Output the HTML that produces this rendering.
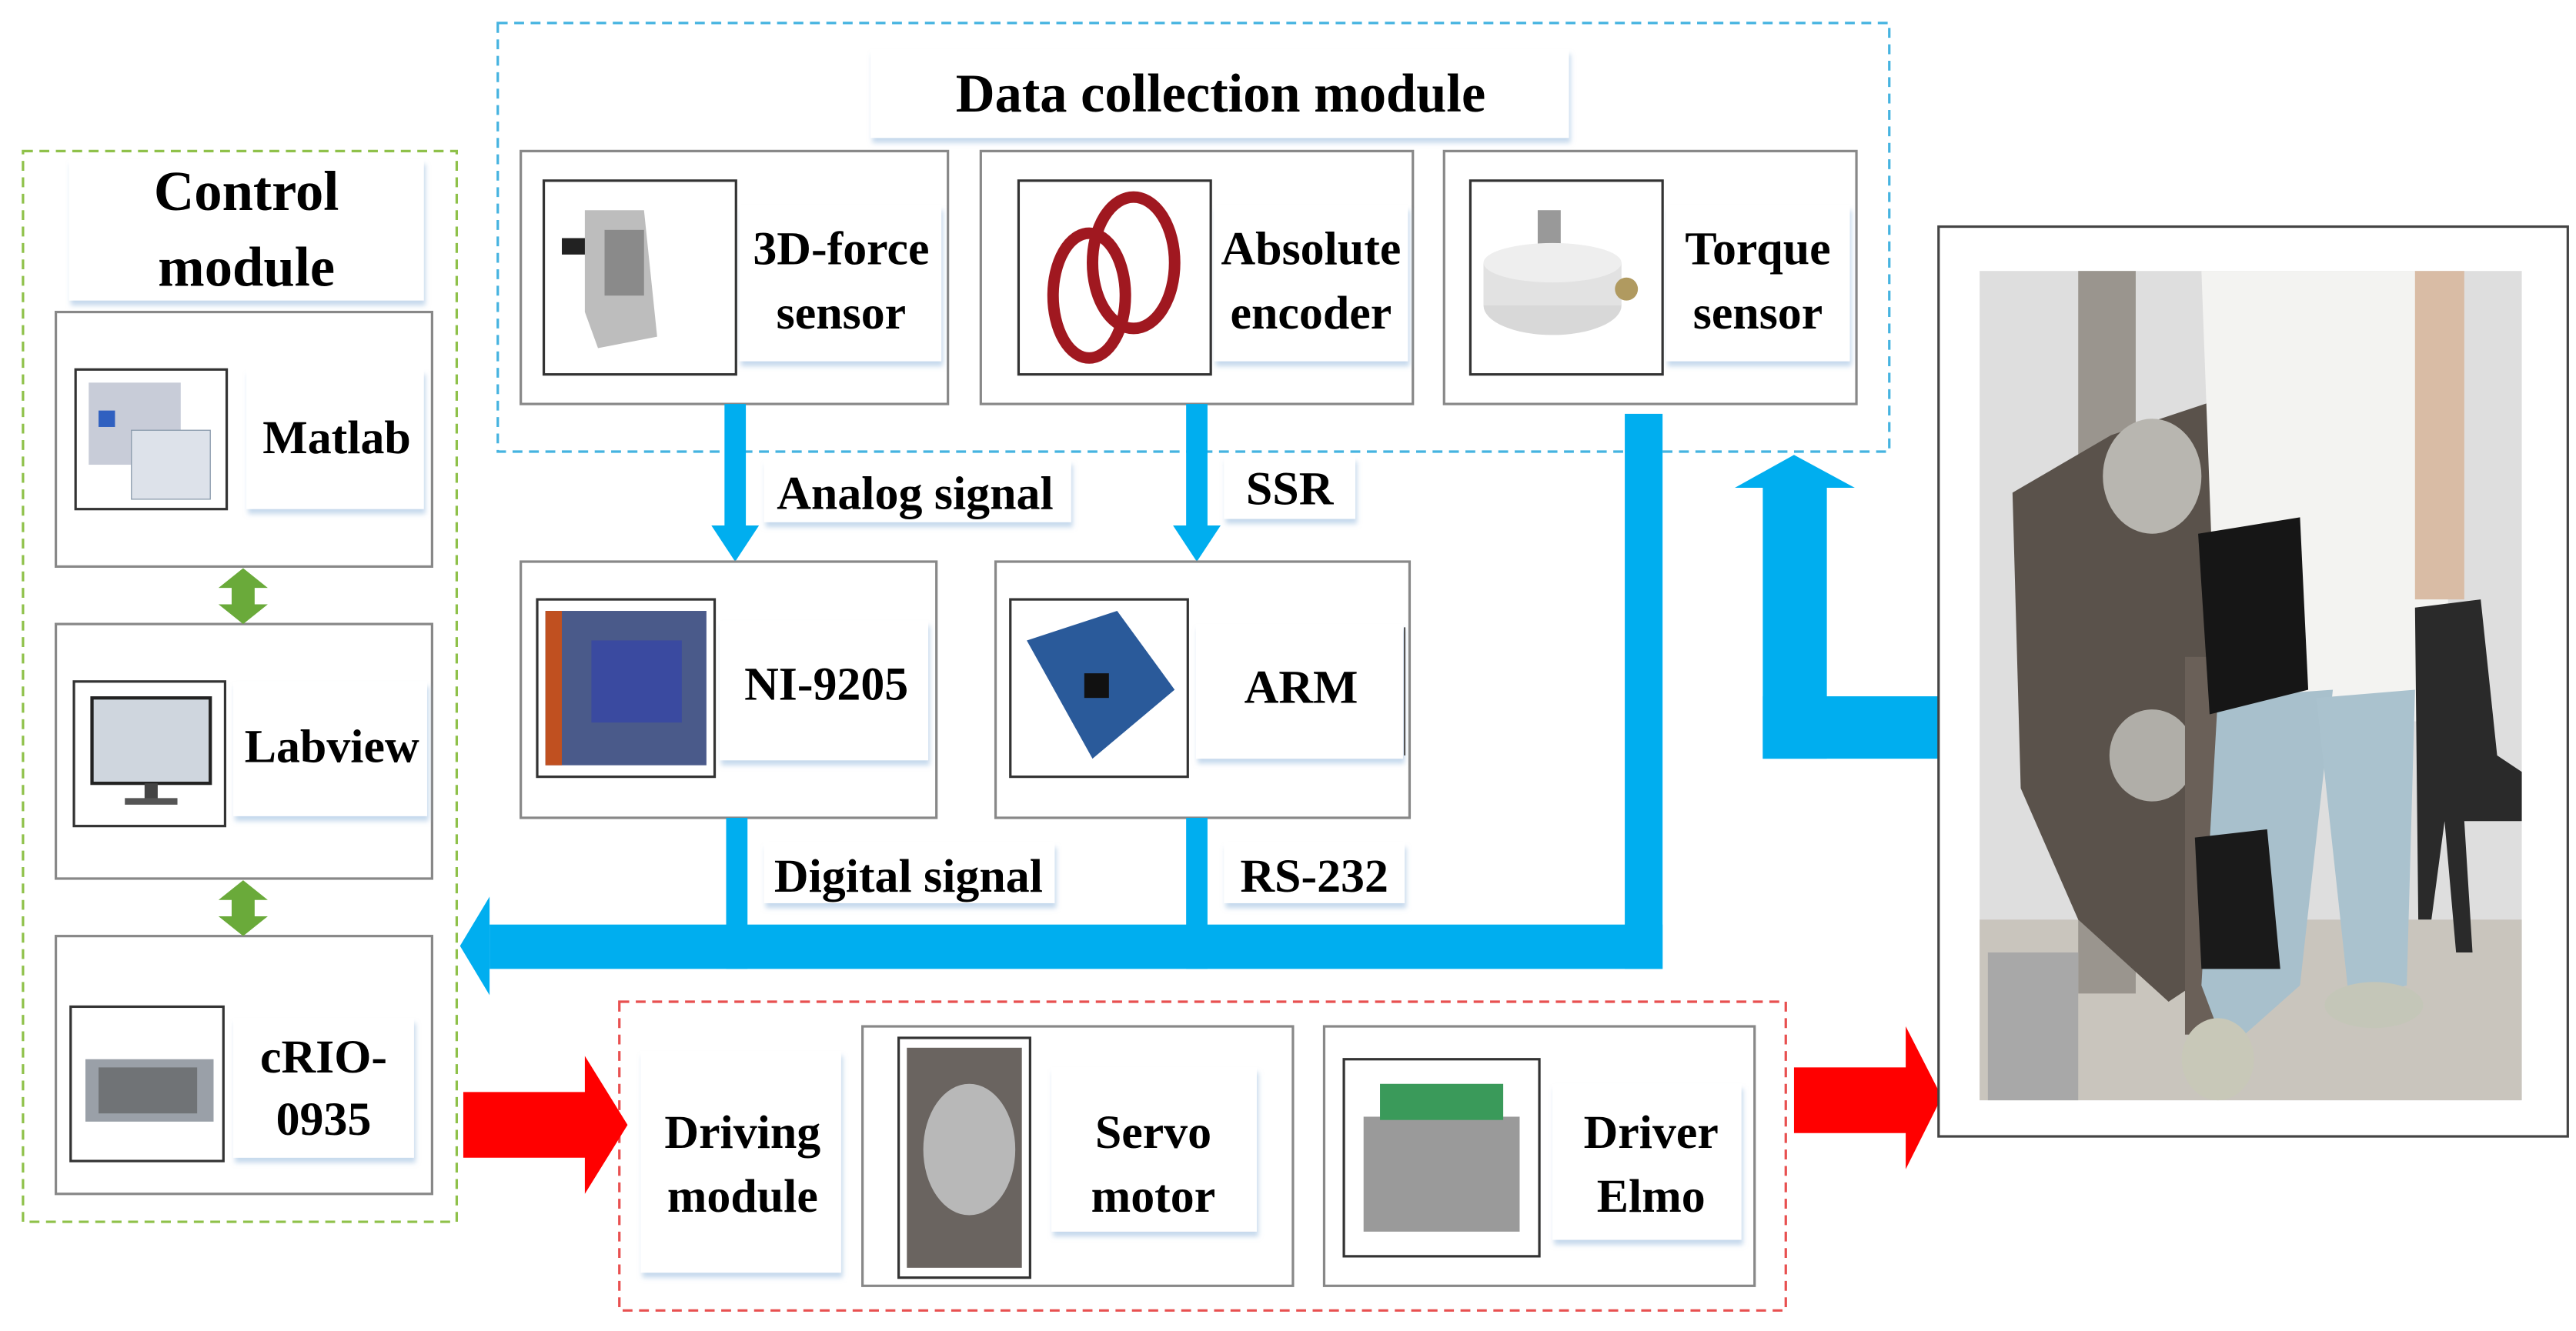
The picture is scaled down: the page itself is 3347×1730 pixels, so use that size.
<!DOCTYPE html>
<html><head><meta charset="utf-8"><style>
html,body{margin:0;padding:0;background:#fff;}
svg{display:block;}
text{font-family:"Liberation Serif",serif;font-weight:bold;fill:#000;}
</style></head><body>
<svg width="3347" height="1730" viewBox="0 0 1568 810.5" preserveAspectRatio="none" xmlns="http://www.w3.org/2000/svg">
<defs>
<filter id="sh" x="-10%" y="-10%" width="120%" height="130%"><feDropShadow dx="1" dy="3" stdDeviation="1.5" flood-color="#9fbfe0" flood-opacity="0.6"/></filter>
</defs>
<rect width="1568" height="810.5" fill="#fff"/>

<!-- Data collection module -->
<rect x="303" y="14" width="847" height="261" fill="none" stroke="#45b3e0" stroke-width="1.5" stroke-dasharray="6,4"/>
<rect x="530" y="30" width="425" height="54" fill="#fff" filter="url(#sh)"/>
<text x="743" y="68" font-size="33" text-anchor="middle">Data collection module</text>

<g stroke="#888" stroke-width="1.5" fill="#fff">
<rect x="317" y="92" width="260" height="154"/>
<rect x="597" y="92" width="263" height="154"/>
<rect x="879" y="92" width="251" height="154"/>
</g>
<g stroke="#333" stroke-width="1.5" fill="#fff">
<rect x="331" y="110" width="117" height="118"/>
<rect x="620" y="110" width="117" height="118"/>
<rect x="895" y="110" width="117" height="118"/>
</g>
<rect x="450" y="125" width="123" height="95" fill="#fff" filter="url(#sh)"/>
<rect x="739" y="125" width="118" height="95" fill="#fff" filter="url(#sh)"/>
<rect x="1014" y="125" width="112" height="95" fill="#fff" filter="url(#sh)"/>
<text x="512" y="161" font-size="29" text-anchor="middle">3D-force</text>
<text x="512" y="200" font-size="29" text-anchor="middle">sensor</text>
<text x="798" y="161" font-size="29" text-anchor="middle">Absolute</text>
<text x="798" y="200" font-size="29" text-anchor="middle">encoder</text>
<text x="1070" y="161" font-size="29" text-anchor="middle">Torque</text>
<text x="1070" y="200" font-size="29" text-anchor="middle">sensor</text>
<!-- 3D force img -->
<rect x="342" y="145" width="18" height="10" fill="#222"/>
<polygon points="356,128 392,128 400,205 364,212 356,190" fill="#bdbdbd"/>
<rect x="368" y="140" width="24" height="40" fill="#8a8a8a"/>
<!-- encoder rings -->
<ellipse cx="663" cy="180" rx="22" ry="38" fill="none" stroke="#a01820" stroke-width="7"/>
<ellipse cx="690" cy="160" rx="25" ry="40" fill="none" stroke="#a01820" stroke-width="7"/>
<!-- torque sensor -->
<rect x="936" y="128" width="14" height="30" fill="#999"/>
<ellipse cx="945" cy="186" rx="42" ry="18" fill="#d8d8d8"/>
<rect x="903" y="160" width="84" height="26" fill="#e2e2e2"/>
<ellipse cx="945" cy="160" rx="42" ry="12" fill="#eee"/>
<circle cx="990" cy="176" r="7" fill="#b09a60"/>

<!-- Analog / SSR arrows -->
<rect x="441" y="246" width="13" height="76" fill="#00aeef"/>
<polygon points="433,320 462,320 447.5,342" fill="#00aeef"/>
<rect x="722" y="246" width="13" height="76" fill="#00aeef"/>
<polygon points="714,320 743,320 728.5,342" fill="#00aeef"/>
<rect x="465" y="280" width="187" height="38" fill="#fff" filter="url(#sh)"/>
<text x="557" y="310" font-size="29" text-anchor="middle">Analog signal</text>
<rect x="745" y="278" width="80" height="38" fill="#fff" filter="url(#sh)"/>
<text x="785" y="307" font-size="29" text-anchor="middle">SSR</text>

<!-- NI-9205 / ARM -->
<g stroke="#888" stroke-width="1.5" fill="#fff">
<rect x="317" y="342" width="253" height="156"/>
<rect x="606" y="342" width="252" height="156"/>
</g>
<g stroke="#333" stroke-width="1.5" fill="#fff">
<rect x="327" y="365" width="108" height="108"/>
<rect x="615" y="365" width="108" height="108"/>
</g>
<rect x="332" y="372" width="98" height="94" fill="#4a5a8a"/>
<rect x="360" y="390" width="55" height="50" fill="#3a4aa0"/>
<rect x="332" y="372" width="10" height="94" fill="#c05020"/>
<polygon points="625,390 680,372 715,420 665,462" fill="#2a5a9a"/>
<rect x="660" y="410" width="15" height="15" fill="#111"/>
<rect x="438" y="378" width="127" height="85" fill="#fff" filter="url(#sh)"/>
<text x="503" y="426" font-size="29" text-anchor="middle">NI-9205</text>
<rect x="728" y="380" width="126" height="82" fill="#fff" filter="url(#sh)"/>
<line x1="855" y1="382" x2="855" y2="460" stroke="#555" stroke-width="1"/>
<text x="792" y="428" font-size="29" text-anchor="middle">ARM</text>

<!-- Digital / RS232 and bus -->
<rect x="442" y="498" width="13" height="92" fill="#00aeef"/>
<rect x="722" y="498" width="13" height="92" fill="#00aeef"/>
<rect x="989" y="252" width="23" height="338" fill="#00aeef"/>
<rect x="298" y="563" width="714" height="27" fill="#00aeef"/>
<polygon points="298,546 298,606 280,576" fill="#00aeef"/>
<rect x="465" y="513" width="177" height="37" fill="#fff" filter="url(#sh)"/>
<text x="553" y="543" font-size="29" text-anchor="middle">Digital signal</text>
<rect x="745" y="513" width="110" height="37" fill="#fff" filter="url(#sh)"/>
<text x="800" y="543" font-size="29" text-anchor="middle">RS-232</text>

<!-- up arrow from photo -->
<rect x="1073" y="296" width="39" height="166" fill="#00aeef"/>
<rect x="1073" y="424" width="107" height="38" fill="#00aeef"/>
<polygon points="1056,297 1129,297 1092,277" fill="#00aeef"/>

<!-- Control module -->
<rect x="14" y="92" width="264" height="652" fill="none" stroke="#8fc14a" stroke-width="1.5" stroke-dasharray="6,4"/>
<rect x="42" y="97" width="216" height="86" fill="#fff" filter="url(#sh)"/>
<text x="150" y="128" font-size="34" text-anchor="middle">Control</text>
<text x="150" y="174" font-size="34" text-anchor="middle">module</text>
<g stroke="#888" stroke-width="1.5" fill="#fff">
<rect x="34" y="190" width="229" height="155"/>
<rect x="34" y="380" width="229" height="155"/>
<rect x="34" y="570" width="229" height="157"/>
</g>
<g stroke="#333" stroke-width="1.5" fill="#fff">
<rect x="46" y="225" width="92" height="85"/>
<rect x="45" y="415" width="92" height="88"/>
<rect x="43" y="613" width="93" height="94"/>
</g>
<rect x="54" y="233" width="56" height="50" fill="#c8ccd8"/>
<rect x="80" y="262" width="48" height="42" fill="#dde2ea" stroke="#8899aa" stroke-width="0.6"/>
<rect x="60" y="250" width="10" height="10" fill="#3060c0"/>
<rect x="56" y="425" width="72" height="52" fill="#cfd6de" stroke="#222" stroke-width="2"/>
<rect x="88" y="477" width="8" height="10" fill="#444"/>
<rect x="76" y="486" width="32" height="4" fill="#555"/>
<rect x="52" y="645" width="78" height="38" fill="#9aa0a8"/>
<rect x="60" y="650" width="60" height="28" fill="#555" opacity="0.6"/>
<rect x="150" y="225" width="108" height="85" fill="#fff" filter="url(#sh)"/>
<text x="205" y="276" font-size="29" text-anchor="middle">Matlab</text>
<rect x="142" y="415" width="118" height="82" fill="#fff" filter="url(#sh)"/>
<text x="202" y="464" font-size="29" text-anchor="middle">Labview</text>
<rect x="142" y="620" width="110" height="85" fill="#fff" filter="url(#sh)"/>
<text x="197" y="653" font-size="29" text-anchor="middle">cRIO-</text>
<text x="197" y="691" font-size="29" text-anchor="middle">0935</text>
<!-- green double arrows -->
<polygon points="148,346 163,358 155,358 155,368 163,368 148,380 133,368 141,368 141,358 133,358" fill="#6aaa3a"/>
<polygon points="148,536 163,548 155,548 155,558 163,558 148,570 133,558 141,558 141,548 133,548" fill="#6aaa3a"/>

<!-- Driving module -->
<rect x="377" y="610" width="710" height="188" fill="none" stroke="#e85050" stroke-width="1.5" stroke-dasharray="6,4"/>
<rect x="390" y="640" width="122" height="135" fill="#fff" filter="url(#sh)"/>
<text x="452" y="699" font-size="29" text-anchor="middle">Driving</text>
<text x="452" y="738" font-size="29" text-anchor="middle">module</text>
<g stroke="#888" stroke-width="1.5" fill="#fff">
<rect x="525" y="625" width="262" height="158"/>
<rect x="806" y="625" width="262" height="158"/>
</g>
<g stroke="#333" stroke-width="1.5" fill="#fff">
<rect x="547" y="632" width="80" height="146"/>
<rect x="818" y="645" width="119" height="120"/>
</g>
<rect x="552" y="638" width="70" height="134" fill="#6a6460"/>
<ellipse cx="590" cy="700" rx="28" ry="40" fill="#b8b8b8"/>
<rect x="830" y="680" width="95" height="70" fill="#9a9a9a"/>
<rect x="840" y="660" width="75" height="22" fill="#3a9a5a"/>
<rect x="640" y="650" width="125" height="100" fill="#fff" filter="url(#sh)"/>
<text x="702" y="699" font-size="29" text-anchor="middle">Servo</text>
<text x="702" y="738" font-size="29" text-anchor="middle">motor</text>
<rect x="945" y="660" width="115" height="95" fill="#fff" filter="url(#sh)"/>
<text x="1005" y="699" font-size="29" text-anchor="middle">Driver</text>
<text x="1005" y="738" font-size="29" text-anchor="middle">Elmo</text>

<!-- red arrows -->
<polygon points="282,665 356,665 356,643 382,685 356,727 356,705 282,705" fill="#ff0000"/>
<polygon points="1092,650 1160,650 1160,625 1182,668 1160,712 1160,690 1092,690" fill="#ff0000"/>

<!-- Photo -->
<rect x="1180" y="138" width="383" height="554" fill="#fff" stroke="#444" stroke-width="1.5"/>
<rect x="1205" y="165" width="330" height="505" fill="#dedede"/>
<rect x="1205" y="560" width="330" height="110" fill="#c9c5bd"/>
<rect x="1265" y="165" width="35" height="440" fill="#9a958e"/>
<rect x="1210" y="580" width="55" height="90" fill="#a8a8a8"/>
<polygon points="1225,300 1285,265 1345,245 1350,590 1320,610 1265,560 1230,480" fill="#5a524b"/>
<ellipse cx="1310" cy="290" rx="30" ry="35" fill="#b8b6b0"/>
<ellipse cx="1310" cy="460" rx="26" ry="28" fill="#b0aea8"/>
<rect x="1330" y="400" width="25" height="230" fill="#6a6058"/>
<polygon points="1340,165 1485,165 1492,440 1350,435" fill="#f3f3f1"/>
<rect x="1470" y="165" width="30" height="200" fill="#d9bca5"/>
<polygon points="1350,425 1420,420 1400,600 1355,640 1340,600" fill="#a8c0cc"/>
<polygon points="1410,425 1470,420 1465,600 1430,610" fill="#aac2ce"/>
<polygon points="1338,325 1400,315 1405,420 1345,435" fill="#161616"/>
<polygon points="1336,510 1380,505 1388,590 1340,590" fill="#1a1a1a"/>
<polygon points="1470,370 1510,365 1520,460 1535,470 1535,500 1500,500 1505,580 1495,580 1488,500 1480,560 1472,560" fill="#2a2a2a"/>
<ellipse cx="1350" cy="645" rx="22" ry="25" fill="#c8c8b8"/>
<ellipse cx="1445" cy="612" rx="30" ry="14" fill="#c4c6b8"/>
</svg>
</body></html>
